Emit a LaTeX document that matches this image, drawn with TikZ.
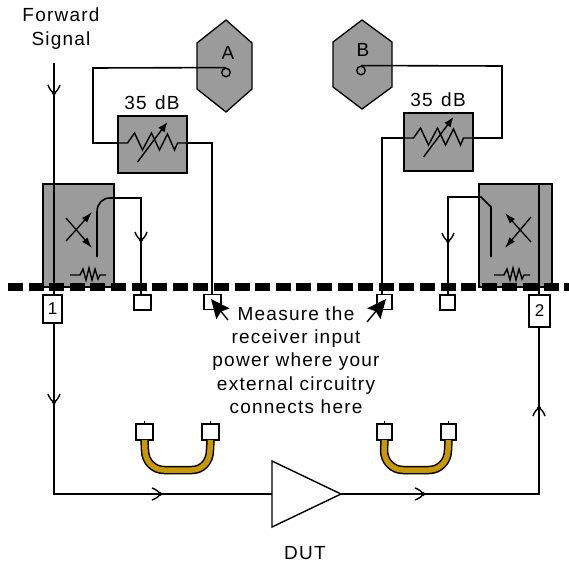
\documentclass[tikz,border=0pt]{standalone}
\usepackage{fontspec}
\setmainfont{Liberation Sans}[LetterSpace=6.5]
\usetikzlibrary{arrows.meta}
\definecolor{devgray}{HTML}{9B9B9B}
\definecolor{cablegold}{HTML}{C99700}
\tikzset{
  wire/.style={line width=1.6pt,line join=miter},
  devbox/.style={draw,line width=1.8pt,fill=devgray,inner sep=0pt,outer sep=0pt},
  portbox/.style={draw,line width=1.6pt,fill=white,inner sep=0pt,outer sep=0pt,font=\fontsize{17}{17}\selectfont},
  lbl/.style={inner sep=0pt,font=\fontsize{19}{23.3}\selectfont,align=center},
  cable/.style={line width=8.5pt,line join=round},
  barb/.pic={\draw[line width=1.4pt] (-6,-8) .. controls (-4.5,-3.5) and (-2,-1) .. (0,0) .. controls (2,-1) and (4.5,-3.5) .. (6,-8);\fill (0,0) circle (2pt);},
  attsym/.pic={
    \draw[line width=1.4pt] (-34,0) -- (-25,0) -- (-18,-10) -- (-10,7) -- (-1,-10) -- (7,7) -- (15,-9) -- (22,7) -- (25,0) -- (34,0);
    \draw[line width=1.4pt,-{Latex[length=10pt,width=8pt]}] (-15,19) -- (15,-21);
  },
  loadsym/.pic={\draw[line width=1.4pt] (-18,0) -- (-8,0) -- (-5,-6) -- (-2,5) -- (1,-7) -- (4,5) -- (7,-6) -- (10,4) -- (12,0) -- (18,0);},
  xsym/.style={line width=1.3pt,-{Latex[length=11pt,width=7pt]}},
  bigarrow/.style={line width=1.4pt,-{Stealth[length=19pt,width=17pt,inset=3pt]}}
}
\begin{document}
\begin{tikzpicture}[x=1pt,y=-1pt]
\useasboundingbox (0,0) rectangle (569,562);
% hexagon samplers
\draw[fill=devgray,line width=1.3pt] (226,20) -- (252,43) -- (252,89) -- (226,112) -- (197,89) -- (197,43) -- cycle;
\draw[fill=devgray,line width=1.3pt] (362,20) -- (392,42) -- (392,87) -- (362,109) -- (333,87) -- (333,42) -- cycle;
\node[lbl] (recA) at (228,53) {A};
\node[lbl] (recB) at (363,50) {B};
\node[draw,circle,line width=1.4pt,minimum size=8.5pt,inner sep=0pt] (cirA) at (226,72.5) {};
\node[draw,circle,line width=1.4pt,minimum size=8.5pt,inner sep=0pt] (cirB) at (361,70.5) {};
% attenuators
\node[devbox,minimum width=69pt,minimum height=57pt] (attL) at (152.5,144.5) {};
\node[devbox,minimum width=69pt,minimum height=58pt] (attR) at (438.5,142) {};
\pic at (152.5,143) {attsym};
\pic at (438.5,138) {attsym};
\node[lbl] (dbL) at (152,103) {35 \kern2pt dB};
\node[lbl] (dbR) at (438,100) {35 \kern2pt dB};
% couplers
\node[devbox,minimum width=71pt,minimum height=103pt] (cplL) at (78.5,235.5) {};
\node[devbox,minimum width=73pt,minimum height=103pt] (cplR) at (515.5,235.5) {};
\pic at (88,275) {loadsym};
\pic at (512,275) {loadsym};
\draw[xsym] (66,241) -- (92,212);
\draw[xsym] (66,218) -- (92,248);
\draw[xsym] (531,242) -- (505,213);
\draw[xsym] (531,217) -- (505,248);
% measurement ports and test ports
\node[portbox,minimum width=19pt,minimum height=28pt] (p1) at (52.5,309) {1};
\node[portbox,minimum width=21pt,minimum height=32pt] (p2) at (539.5,311) {2};
\node[portbox,minimum width=17pt,minimum height=15pt] (mL1) at (142.5,302.5) {};
\node[portbox,minimum width=17pt,minimum height=15pt] (mL2) at (212.5,302) {};
\node[portbox,minimum width=15pt,minimum height=15pt] (mR2) at (384.5,302) {};
\node[portbox,minimum width=15pt,minimum height=15pt] (mR1) at (447.5,302.5) {};
% DUT
\coordinate (dutT) at (272,461);
\coordinate (dutB) at (272,527);
\coordinate (dutTip) at (341,494);
\draw[line width=1.4pt] (dutT) -- (dutTip) -- (dutB) -- cycle;
% wires
\coordinate (fwd) at (54,63);
\coordinate (cornerBL) at (54,494);
\coordinate (cornerBR) at (539,494);
\coordinate (turnA) at (93,68);
\coordinate (turnB) at (502,66);
\coordinate (cpLend) at (97,257);
\coordinate (cpRend) at (491,257);
\coordinate (cpLtop) at (141,198);
\coordinate (cpRtop) at (448,197);
\coordinate (dashA) at (8,287);
\coordinate (dashB) at (569,287);
\draw[wire] (fwd) -- (54,295);
\draw[wire] (54,323) -- (cornerBL) -- (dutT |- cornerBL);
\draw[wire] (dutTip) -- (cornerBR) -- (p2.south -| cornerBR);
\draw[wire] (539,184) -- (p2.north -| cornerBR);
\draw[wire] (attL.west |- 0,143) -| (turnA) -- (cirA.north);
\draw[wire] (attL.east |- 0,143) -- (212,143) -- (mL2.north -| 212,0);
\draw[wire] (attR.east |- 0,138) -- (502,138) -- (turnB) -- (cirB.north);
\draw[wire] (attR.west |- 0,138) -- (382,138) -- (mR2.north -| 382,0);
\draw[wire] (cpLend) -- (97,212) .. controls (97,204) and (102,198) .. (110,198) -- (cpLtop) -- (mL1.north -| cpLtop);
\draw[wire] (cpRend) -- (491,207) -- (481,197) -- (cpRtop) -- (mR1.north -| cpRtop);
% line marks
\pic at (54,93) {barb};
\pic at (54,402) {barb};
\pic at (141,240) {barb};
\pic at (448,241) {barb};
\pic[rotate=90] at (160,494) {barb};
\pic[rotate=90] at (423,494) {barb};
\pic[rotate=180] at (539,408) {barb};
% reference plane
\draw[line width=8pt,dash pattern=on 15pt off 5.6pt] (dashA) -- (dashB);
% through cables
\node[portbox,minimum width=17pt,minimum height=16pt] (cL1) at (144.5,432) {};
\node[portbox,minimum width=17pt,minimum height=16pt] (cL2) at (210.5,432) {};
\node[portbox,minimum width=15pt,minimum height=16pt] (cR1) at (384.5,432) {};
\node[portbox,minimum width=15pt,minimum height=16pt] (cR2) at (448.5,432) {};
\draw[cable] (cL1.south) -- (145,450) .. controls (145,462) and (154,470) .. (164,470) -- (192,470) .. controls (202,470) and (210,462) .. (210,450) -- (cL2.south);
\draw[cable,color=cablegold,line width=5.5pt] (cL1.south) -- (145,450) .. controls (145,462) and (154,470) .. (164,470) -- (192,470) .. controls (202,470) and (210,462) .. (210,450) -- (cL2.south);
\draw[cable] (cR1.south) -- (384,450) .. controls (384,462) and (393,470) .. (403,470) -- (429,470) .. controls (439,470) and (448,462) .. (448,450) -- (cR2.south);
\draw[cable,color=cablegold,line width=5.5pt] (cR1.south) -- (384,450) .. controls (384,462) and (393,470) .. (403,470) -- (429,470) .. controls (439,470) and (448,462) .. (448,450) -- (cR2.south);
\draw[line width=1.4pt] (cL1.north) -- ++(0,-3);
\draw[line width=1.4pt] (cL2.north) -- ++(0,-3);
\draw[line width=1.4pt] (cR1.north) -- ++(0,-3);
\draw[line width=1.4pt] (cR2.north) -- ++(0,-3);
% labels
\node[lbl] (fs) at (61,28.5) {Forward\\Signal};
\node[lbl] (note) at (296,360) {Measure the\\receiver input\\power where your\\external circuitry\\connects here};
\node[lbl] (dut) at (305,553) {DUT};
% pointers
\coordinate (ptrL) at (228,320);
\coordinate (ptrR) at (367,322);
\draw[bigarrow] (ptrL) -- (211,299);
\draw[bigarrow] (ptrR) -- (386,299);
\end{tikzpicture}
\end{document}
